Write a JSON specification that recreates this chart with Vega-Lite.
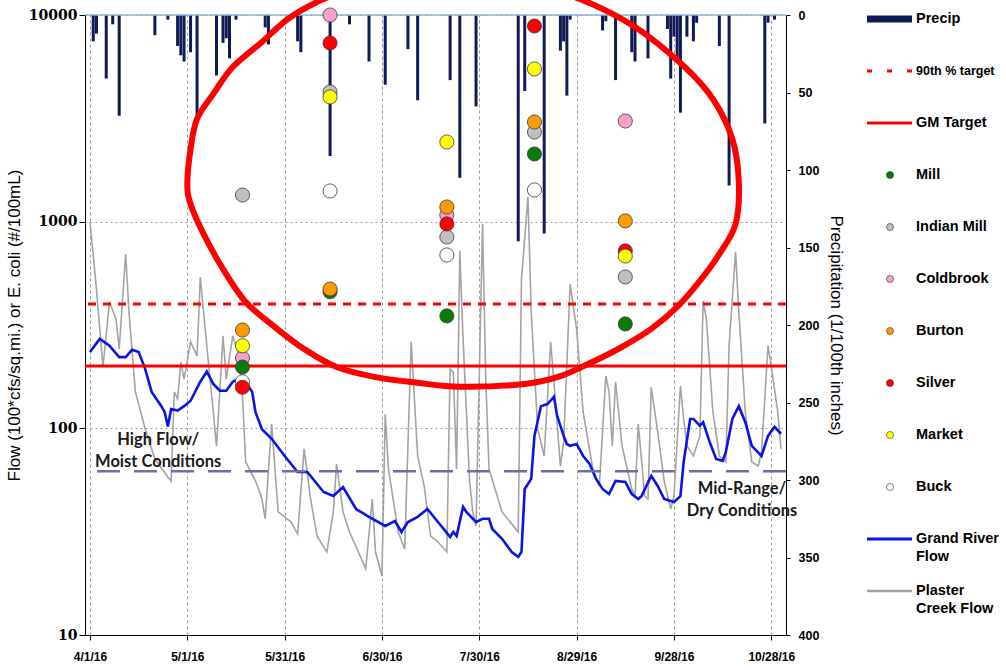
{
  "$schema": "https://vega.github.io/schema/vega-lite/v6.json",
  "background": "white",
  "padding": {"left": 5, "top": -34, "right": 0, "bottom": 4},
  "config": {"view": {"stroke": null}, "font": "Liberation Sans"},
  "bounds": "flush",
  "spacing": 79,
  "resolve": {"scale": {"color": "independent"}},
  "datasets": {
    "precip": [
      {"date":"2016-04-02","p":17},{"date":"2016-04-03","p":12},{"date":"2016-04-06","p":41},{"date":"2016-04-08","p":6},
      {"date":"2016-04-10","p":65},{"date":"2016-04-21","p":13},{"date":"2016-04-25","p":3},{"date":"2016-04-28","p":20},
      {"date":"2016-04-29","p":26},{"date":"2016-04-30","p":30},{"date":"2016-05-02","p":24},{"date":"2016-05-04","p":65},
      {"date":"2016-05-10","p":39},{"date":"2016-05-12","p":18},{"date":"2016-05-13","p":15},{"date":"2016-05-14","p":28},
      {"date":"2016-05-16","p":3},{"date":"2016-05-25","p":8},{"date":"2016-05-26","p":19},{"date":"2016-06-04","p":17},
      {"date":"2016-06-05","p":24},{"date":"2016-06-14","p":91},{"date":"2016-06-20","p":6},{"date":"2016-06-26","p":30},
      {"date":"2016-07-01","p":45},{"date":"2016-07-08","p":22},{"date":"2016-07-11","p":55},{"date":"2016-07-21","p":42},
      {"date":"2016-07-24","p":105},{"date":"2016-07-29","p":59},{"date":"2016-08-11","p":146},{"date":"2016-08-13","p":49},
      {"date":"2016-08-19","p":141},{"date":"2016-08-24","p":23},{"date":"2016-08-25","p":17},{"date":"2016-08-26","p":52},
      {"date":"2016-08-27","p":3},{"date":"2016-09-06","p":10},{"date":"2016-09-07","p":4},{"date":"2016-09-10","p":42},
      {"date":"2016-09-15","p":24},{"date":"2016-09-16","p":30},{"date":"2016-09-20","p":28},{"date":"2016-09-26","p":9},
      {"date":"2016-09-27","p":41},{"date":"2016-09-28","p":14},{"date":"2016-09-29","p":30},{"date":"2016-09-30","p":63},
      {"date":"2016-10-02","p":14},{"date":"2016-10-04","p":17},{"date":"2016-10-05","p":5},{"date":"2016-10-12","p":20},
      {"date":"2016-10-15","p":110},{"date":"2016-10-26","p":70},{"date":"2016-10-27","p":5},{"date":"2016-10-29","p":3}
    ],
    "grand": [
      {"date":"2016-04-01","v":234},{"date":"2016-04-04","v":271},{"date":"2016-04-07","v":251},{"date":"2016-04-10","v":221},
      {"date":"2016-04-12","v":221},{"date":"2016-04-14","v":240},{"date":"2016-04-16","v":234},{"date":"2016-04-18","v":194},
      {"date":"2016-04-20","v":150},{"date":"2016-04-23","v":128},{"date":"2016-04-24","v":120},{"date":"2016-04-25","v":102},
      {"date":"2016-04-26","v":124},{"date":"2016-04-28","v":122},{"date":"2016-04-30","v":128},{"date":"2016-05-02","v":136},
      {"date":"2016-05-05","v":168},{"date":"2016-05-07","v":188},{"date":"2016-05-09","v":164},{"date":"2016-05-11","v":152},
      {"date":"2016-05-13","v":152},{"date":"2016-05-15","v":168},{"date":"2016-05-18","v":177},{"date":"2016-05-21","v":150},
      {"date":"2016-05-22","v":120},{"date":"2016-05-24","v":99},{"date":"2016-05-27","v":89},{"date":"2016-05-31","v":73.5},
      {"date":"2016-06-04","v":61.5},{"date":"2016-06-07","v":61.5},{"date":"2016-06-12","v":49.2},{"date":"2016-06-15","v":47.1},
      {"date":"2016-06-18","v":52},{"date":"2016-06-22","v":40.7},{"date":"2016-06-26","v":37.3},{"date":"2016-07-01","v":33.7},
      {"date":"2016-07-04","v":35.6},{"date":"2016-07-06","v":31.5},{"date":"2016-07-08","v":35.2},{"date":"2016-07-11","v":37.3},
      {"date":"2016-07-14","v":40.7},{"date":"2016-07-17","v":35.6},{"date":"2016-07-19","v":32.6},{"date":"2016-07-21","v":29.8},
      {"date":"2016-07-22","v":31.5},{"date":"2016-07-23","v":30.1},{"date":"2016-07-25","v":41.7},{"date":"2016-07-26","v":39.4},
      {"date":"2016-07-29","v":35.2},{"date":"2016-07-31","v":36.5},{"date":"2016-08-02","v":36.5},{"date":"2016-08-03","v":32.6},
      {"date":"2016-08-06","v":29.2},{"date":"2016-08-09","v":25.2},{"date":"2016-08-11","v":23.9},{"date":"2016-08-12","v":25.2},
      {"date":"2016-08-13","v":50.9},{"date":"2016-08-15","v":56.9},{"date":"2016-08-16","v":91.9},{"date":"2016-08-18","v":128},
      {"date":"2016-08-20","v":131},{"date":"2016-08-22","v":142},{"date":"2016-08-23","v":115},{"date":"2016-08-25","v":91.9},
      {"date":"2016-08-26","v":84},{"date":"2016-08-27","v":82.3},{"date":"2016-08-29","v":84},{"date":"2016-08-31","v":73.5},
      {"date":"2016-09-02","v":67.2},{"date":"2016-09-04","v":56.9},{"date":"2016-09-06","v":50.9},{"date":"2016-09-08","v":48.1},
      {"date":"2016-09-10","v":55.7},{"date":"2016-09-13","v":55},{"date":"2016-09-15","v":48.1},{"date":"2016-09-17","v":45.5},
      {"date":"2016-09-18","v":47},{"date":"2016-09-21","v":58.9},{"date":"2016-09-23","v":52.6},{"date":"2016-09-25","v":45.5},
      {"date":"2016-09-28","v":44},{"date":"2016-09-30","v":47},{"date":"2016-10-01","v":68.8},{"date":"2016-10-03","v":111},
      {"date":"2016-10-04","v":111},{"date":"2016-10-06","v":103},{"date":"2016-10-07","v":107},{"date":"2016-10-09","v":86},
      {"date":"2016-10-11","v":71.1},{"date":"2016-10-13","v":69.6},{"date":"2016-10-14","v":76.9},{"date":"2016-10-16","v":111},
      {"date":"2016-10-18","v":128},{"date":"2016-10-20","v":107},{"date":"2016-10-22","v":82.3},{"date":"2016-10-25","v":73.5},
      {"date":"2016-10-27","v":91.9},{"date":"2016-10-29","v":101.6},{"date":"2016-10-31","v":94}
    ],
    "plaster": [
      {"date":"2016-04-01","v":997},{"date":"2016-04-03","v":472},{"date":"2016-04-05","v":198},{"date":"2016-04-07","v":409},
      {"date":"2016-04-09","v":338},{"date":"2016-04-10","v":242},{"date":"2016-04-12","v":698},{"date":"2016-04-13","v":366},
      {"date":"2016-04-15","v":150},{"date":"2016-04-18","v":99.4},{"date":"2016-04-21","v":71},{"date":"2016-04-25","v":58.2},
      {"date":"2016-04-26","v":55.6},{"date":"2016-04-27","v":150},{"date":"2016-04-28","v":139},{"date":"2016-04-29","v":209},
      {"date":"2016-04-30","v":173},{"date":"2016-05-02","v":262},{"date":"2016-05-04","v":224},{"date":"2016-05-05","v":540},
      {"date":"2016-05-07","v":251},{"date":"2016-05-09","v":120},{"date":"2016-05-10","v":82},{"date":"2016-05-11","v":150},
      {"date":"2016-05-12","v":280},{"date":"2016-05-13","v":173},{"date":"2016-05-15","v":280},{"date":"2016-05-17","v":224},
      {"date":"2016-05-18","v":143},{"date":"2016-05-19","v":68.8},{"date":"2016-05-22","v":55.6},{"date":"2016-05-23","v":50.9},
      {"date":"2016-05-24","v":45.5},{"date":"2016-05-25","v":36.5},{"date":"2016-05-27","v":105},{"date":"2016-05-29","v":39.4},
      {"date":"2016-06-02","v":35.2},{"date":"2016-06-04","v":30.8},{"date":"2016-06-06","v":79.5},{"date":"2016-06-08","v":45.5},
      {"date":"2016-06-10","v":30.1},{"date":"2016-06-13","v":25.2},{"date":"2016-06-15","v":39.4},{"date":"2016-06-16","v":67.2},
      {"date":"2016-06-18","v":39.4},{"date":"2016-06-20","v":31.5},{"date":"2016-06-25","v":20.9},{"date":"2016-06-27","v":45.5},
      {"date":"2016-06-28","v":25.2},{"date":"2016-06-30","v":19.3},{"date":"2016-07-01","v":117},{"date":"2016-07-02","v":63.6},
      {"date":"2016-07-05","v":31.5},{"date":"2016-07-07","v":26.1},{"date":"2016-07-08","v":82.2},{"date":"2016-07-09","v":262},
      {"date":"2016-07-11","v":73.5},{"date":"2016-07-13","v":52.6},{"date":"2016-07-15","v":30.1},{"date":"2016-07-17","v":28.5},
      {"date":"2016-07-20","v":25.2},{"date":"2016-07-21","v":194},{"date":"2016-07-22","v":187},{"date":"2016-07-23","v":63.6},
      {"date":"2016-07-24","v":722},{"date":"2016-07-25","v":271},{"date":"2016-07-27","v":55.6},{"date":"2016-07-28","v":39.4},
      {"date":"2016-07-29","v":33.7},{"date":"2016-07-31","v":975},{"date":"2016-08-01","v":173},{"date":"2016-08-02","v":63.6},
      {"date":"2016-08-06","v":39.4},{"date":"2016-08-11","v":31.5},{"date":"2016-08-12","v":528},{"date":"2016-08-14","v":1317},
      {"date":"2016-08-15","v":366},{"date":"2016-08-17","v":99.4},{"date":"2016-08-19","v":73.5},{"date":"2016-08-21","v":262},
      {"date":"2016-08-22","v":168},{"date":"2016-08-24","v":65.8},{"date":"2016-08-25","v":86},{"date":"2016-08-27","v":499},
      {"date":"2016-08-29","v":303},{"date":"2016-08-31","v":120},{"date":"2016-09-03","v":63.6},{"date":"2016-09-05","v":52.6},
      {"date":"2016-09-07","v":179},{"date":"2016-09-08","v":150},{"date":"2016-09-09","v":82.2},{"date":"2016-09-10","v":168},
      {"date":"2016-09-12","v":82.2},{"date":"2016-09-15","v":50.9},{"date":"2016-09-16","v":47},{"date":"2016-09-17","v":105},
      {"date":"2016-09-19","v":47},{"date":"2016-09-20","v":45.5},{"date":"2016-09-21","v":158},{"date":"2016-09-23","v":96},
      {"date":"2016-09-25","v":55.6},{"date":"2016-09-27","v":40.7},{"date":"2016-09-28","v":47},{"date":"2016-09-30","v":160},
      {"date":"2016-10-01","v":111},{"date":"2016-10-02","v":82.2},{"date":"2016-10-04","v":73.5},{"date":"2016-10-06","v":91.9},
      {"date":"2016-10-07","v":413},{"date":"2016-10-08","v":338},{"date":"2016-10-10","v":120},{"date":"2016-10-12","v":73.5},
      {"date":"2016-10-14","v":68.8},{"date":"2016-10-15","v":251},{"date":"2016-10-17","v":713},{"date":"2016-10-18","v":366},
      {"date":"2016-10-20","v":120},{"date":"2016-10-22","v":68.8},{"date":"2016-10-24","v":65.8},{"date":"2016-10-25","v":76.9},
      {"date":"2016-10-27","v":251},{"date":"2016-10-28","v":200},{"date":"2016-10-30","v":120},{"date":"2016-10-31","v":79.5}
    ],
    "ecoli": [
      {"date":"2016-05-18","site":"Indian Mill","v":1346},{"date":"2016-05-18","site":"Buck","v":168},
      {"date":"2016-05-18","site":"Coldbrook","v":219},{"date":"2016-05-18","site":"Mill","v":198},
      {"date":"2016-05-18","site":"Burton","v":299},{"date":"2016-05-18","site":"Silver","v":158},
      {"date":"2016-05-18","site":"Market","v":251},
      {"date":"2016-06-14","site":"Mill","v":458},{"date":"2016-06-14","site":"Indian Mill","v":4240},
      {"date":"2016-06-14","site":"Coldbrook","v":10000},{"date":"2016-06-14","site":"Burton","v":472},
      {"date":"2016-06-14","site":"Silver","v":7320},{"date":"2016-06-14","site":"Market","v":4012},
      {"date":"2016-06-14","site":"Buck","v":1408},
      {"date":"2016-07-20","site":"Mill","v":350},{"date":"2016-07-20","site":"Indian Mill","v":843},
      {"date":"2016-07-20","site":"Coldbrook","v":1077},{"date":"2016-07-20","site":"Burton","v":1178},
      {"date":"2016-07-20","site":"Silver","v":975},{"date":"2016-07-20","site":"Market","v":2430},
      {"date":"2016-07-20","site":"Buck","v":690},
      {"date":"2016-08-16","site":"Mill","v":2126},{"date":"2016-08-16","site":"Indian Mill","v":2716},
      {"date":"2016-08-16","site":"Burton","v":3036},{"date":"2016-08-16","site":"Silver","v":8845},
      {"date":"2016-08-16","site":"Market","v":5480},{"date":"2016-08-16","site":"Buck","v":1424},
      {"date":"2016-09-13","site":"Mill","v":320},{"date":"2016-09-13","site":"Indian Mill","v":540},
      {"date":"2016-09-13","site":"Coldbrook","v":3070},{"date":"2016-09-13","site":"Burton","v":1008},
      {"date":"2016-09-13","site":"Silver","v":722},{"date":"2016-09-13","site":"Market","v":682}
    ],
    "ellipse": [
      {"k":1,"date":"2016-05-01","v":1522},{"k":2,"date":"2016-05-02","v":2247},{"k":3,"date":"2016-05-04","v":3140},
      {"k":4,"date":"2016-05-09","v":4148},{"k":5,"date":"2016-05-15","v":5603},{"k":6,"date":"2016-05-24","v":7403},
      {"k":7,"date":"2016-06-01","v":9564},{"k":8,"date":"2016-06-10","v":11557},{"k":9,"date":"2016-06-19","v":13064},
      {"k":10,"date":"2016-07-05","v":14444},{"k":11,"date":"2016-07-26","v":14937},{"k":12,"date":"2016-08-16","v":13658},
      {"k":13,"date":"2016-08-30","v":11950},{"k":14,"date":"2016-09-16","v":8750},{"k":15,"date":"2016-10-01","v":5666},
      {"k":16,"date":"2016-10-10","v":3923},{"k":17,"date":"2016-10-16","v":2512},{"k":18,"date":"2016-10-18","v":1556},
      {"k":19,"date":"2016-10-17","v":975},{"k":20,"date":"2016-10-12","v":698},{"k":21,"date":"2016-10-06","v":517},
      {"k":22,"date":"2016-09-29","v":387},{"k":23,"date":"2016-09-21","v":303},{"k":24,"date":"2016-09-12","v":248},
      {"k":25,"date":"2016-09-03","v":210},{"k":26,"date":"2016-08-24","v":179},{"k":27,"date":"2016-08-13","v":164},
      {"k":28,"date":"2016-07-24","v":159},{"k":29,"date":"2016-07-11","v":166},{"k":30,"date":"2016-06-28","v":177},
      {"k":31,"date":"2016-06-16","v":198},{"k":32,"date":"2016-06-06","v":242},{"k":33,"date":"2016-05-28","v":309},
      {"k":34,"date":"2016-05-19","v":409},{"k":35,"date":"2016-05-12","v":590},{"k":36,"date":"2016-05-06","v":872},
      {"k":37,"date":"2016-05-02","v":1218}
    ],
    "notes": [
      {"date":"2016-04-22","v":88,"label":"High Flow/\nMoist Conditions"},
      {"date":"2016-10-19","v":51,"label":"Mid-Range/\nDry Conditions"}
    ],
    "legend": [
      {"item":"Precip","label":"Precip"},
      {"item":"90th % target","label":"90th % target"},
      {"item":"GM Target","label":"GM Target"},
      {"item":"Mill","label":"Mill"},
      {"item":"Indian Mill","label":"Indian Mill"},
      {"item":"Coldbrook","label":"Coldbrook"},
      {"item":"Burton","label":"Burton"},
      {"item":"Silver","label":"Silver"},
      {"item":"Market","label":"Market"},
      {"item":"Buck","label":"Buck"},
      {"item":"Grand River Flow","label":"Grand River\nFlow"},
      {"item":"Plaster Creek Flow","label":"Plaster\nCreek Flow"}
    ]
  },
  "hconcat": [
    {
      "width": 701,
      "height": 620,
      "resolve": {"scale": {"y": "independent"}, "axis": {"y": "independent"}},
      "layer": [
        {
          "data": {"name": "precip"},
          "mark": {"type": "bar", "color": "#101a55", "width": 3},
          "encoding": {
            "x": {
              "field": "date", "type": "temporal",
              "scale": {"type": "utc", "domain": [{"year":2016,"month":4,"date":1,"utc":true},{"year":2016,"month":10,"date":31,"utc":true}]},
              "axis": {
                "title": null,
                "values": [
                  {"year":2016,"month":4,"date":1,"utc":true},{"year":2016,"month":5,"date":1,"utc":true},
                  {"year":2016,"month":5,"date":31,"utc":true},{"year":2016,"month":6,"date":30,"utc":true},
                  {"year":2016,"month":7,"date":30,"utc":true},{"year":2016,"month":8,"date":29,"utc":true},
                  {"year":2016,"month":9,"date":28,"utc":true},{"year":2016,"month":10,"date":28,"utc":true}
                ],
                "format": "%-m/%-d/%y",
                "labelFont": "Liberation Sans", "labelFontWeight": "bold", "labelFontSize": 12, "labelColor": "#000",
                "labelFlush": false, "labelOverlap": false, "labelPadding": 11,
                "tickSize": 5, "tickColor": "#000", "domainColor": "#000",
                "grid": true, "gridDash": [3, 3], "gridColor": "#9a9a9a"
              }
            },
            "y": {
              "field": "p", "type": "quantitative",
              "scale": {"domain": [0, 400], "reverse": true, "nice": false},
              "axis": {
                "orient": "right", "title": "Precipitation (1/100th inches)",
                "values": [0, 50, 100, 150, 200, 250, 300, 350, 400],
                "labelFont": "Liberation Sans", "labelFontWeight": "bold", "labelFontSize": 12.5, "labelColor": "#000",
                "tickSize": 4, "tickColor": "#000", "labelPadding": 8, "domainColor": "#000", "grid": false,
                "titleFont": "Liberation Sans", "titleFontSize": 17, "titleFontWeight": "normal", "titleColor": "#000", "titlePadding": 8
              }
            }
          }
        },
        {
          "layer": [
            {
              "data": {"name": "plaster"},
              "mark": {"type": "line", "color": "#a3a3a3", "strokeWidth": 1.6},
              "encoding": {
                "x": {"field": "date", "type": "temporal"},
                "y": {
                  "field": "v", "type": "quantitative",
                  "scale": {"type": "log", "domain": [10, 10000], "nice": false},
                  "axis": {
                    "orient": "left", "title": "Flow (100*cfs/sq.mi.) or E. coli (#/100mL)",
                    "values": [10, 100, 1000, 10000], "format": "d",
                    "labelFont": "DejaVu Serif", "labelFontWeight": "bold", "labelFontSize": 14, "labelColor": "#000",
                    "tickSize": 6, "tickColor": "#000", "labelPadding": 2, "domainColor": "#000",
                    "grid": true, "gridDash": [2, 3], "gridColor": "#9a9a9a",
                    "titleFont": "Liberation Sans", "titleFontSize": 17, "titleFontWeight": "normal", "titleColor": "#000", "titlePadding": 5
                  }
                }
              }
            },
            {
              "data": {"name": "grand"},
              "mark": {"type": "line", "color": "#0a14e6", "strokeWidth": 2.6},
              "encoding": {
                "x": {"field": "date", "type": "temporal"},
                "y": {"field": "v", "type": "quantitative"}
              }
            },
            {
              "data": {"values": [{}]},
              "mark": {"type": "rule", "color": "#6e6ea6", "strokeWidth": 2.6, "strokeDash": [23, 14]},
              "encoding": {"y": {"datum": 62, "type": "quantitative"}}
            },
            {
              "data": {"values": [{}]},
              "mark": {"type": "rule", "color": "#ff0000", "strokeWidth": 3},
              "encoding": {"y": {"datum": 200, "type": "quantitative"}}
            },
            {
              "data": {"values": [{}]},
              "mark": {"type": "rule", "color": "#ff0000", "strokeWidth": 3, "strokeDash": [8, 7]},
              "encoding": {"y": {"datum": 400, "type": "quantitative"}}
            },
            {
              "data": {"values": [{}]},
              "mark": {"type": "rule", "color": "#8db3e2", "strokeWidth": 1.5},
              "encoding": {"y": {"datum": 10000, "type": "quantitative"}}
            },
            {
              "data": {"name": "ellipse"},
              "mark": {"type": "line", "color": "#ff0000", "strokeWidth": 6, "interpolate": "cardinal-closed"},
              "encoding": {
                "x": {"field": "date", "type": "temporal"},
                "y": {"field": "v", "type": "quantitative"},
                "order": {"field": "k", "type": "quantitative"}
              }
            },
            {
              "data": {"name": "ecoli"},
              "mark": {"type": "point", "shape": "circle", "filled": true, "size": 200, "opacity": 1, "stroke": "#3a3a3a", "strokeWidth": 0.8},
              "encoding": {
                "x": {"field": "date", "type": "temporal"},
                "y": {"field": "v", "type": "quantitative"},
                "color": {
                  "field": "site", "type": "nominal", "legend": null,
                  "scale": {"domain": ["Mill","Indian Mill","Coldbrook","Burton","Silver","Market","Buck"],
                            "range": ["#0a7a0a","#c0c0c0","#f7a1c9","#ff9a00","#ff0000","#ffff00","#ffffff"]}
                }
              }
            },
            {
              "data": {"name": "notes"},
              "mark": {"type": "text", "font": "Lato", "fontWeight": "bold", "fontSize": 16.5, "lineBreak": "\n", "lineHeight": 22, "align": "center", "baseline": "middle", "color": "#1a1a1a"},
              "encoding": {
                "x": {"field": "date", "type": "temporal"},
                "y": {"field": "v", "type": "quantitative"},
                "text": {"field": "label"}
              }
            }
          ]
        }
      ]
    },
    {
      "width": 140,
      "height": 580,
      "data": {"name": "legend"},
      "encoding": {
        "y": {
          "field": "item", "type": "nominal", "axis": null,
          "scale": {"type": "point", "padding": 0, "domain": ["Precip","90th % target","GM Target","Mill","Indian Mill","Coldbrook","Burton","Silver","Market","Buck","Grand River Flow","Plaster Creek Flow"], "range": [4, 576]}
        }
      },
      "layer": [
        {
          "transform": [{"filter": "datum.item === 'Precip'"}],
          "mark": {"type": "rule", "color": "#101a55", "strokeWidth": 7},
          "encoding": {"x": {"datum": 2, "type": "quantitative", "scale": {"domain": [0, 140], "nice": false, "zero": false}, "axis": null}, "x2": {"datum": 47}}
        },
        {
          "transform": [{"filter": "datum.item === '90th % target'"}],
          "mark": {"type": "rule", "color": "#ff0000", "strokeWidth": 3, "strokeDash": [5, 15]},
          "encoding": {"x": {"datum": 2, "type": "quantitative", "axis": null}, "x2": {"datum": 47}}
        },
        {
          "transform": [{"filter": "datum.item === 'GM Target'"}],
          "mark": {"type": "rule", "color": "#ff0000", "strokeWidth": 3},
          "encoding": {"x": {"datum": 2, "type": "quantitative", "axis": null}, "x2": {"datum": 47}}
        },
        {
          "transform": [{"filter": "datum.item === 'Grand River Flow'"}],
          "mark": {"type": "rule", "color": "#0a14e6", "strokeWidth": 3},
          "encoding": {"x": {"datum": 2, "type": "quantitative", "axis": null}, "x2": {"datum": 47}}
        },
        {
          "transform": [{"filter": "datum.item === 'Plaster Creek Flow'"}],
          "mark": {"type": "rule", "color": "#a3a3a3", "strokeWidth": 2.5},
          "encoding": {"x": {"datum": 2, "type": "quantitative", "axis": null}, "x2": {"datum": 47}}
        },
        {
          "transform": [{"filter": {"field": "item", "oneOf": ["Mill","Indian Mill","Coldbrook","Burton","Silver","Market","Buck"]}}],
          "mark": {"type": "point", "shape": "circle", "filled": true, "size": 50, "opacity": 1, "stroke": "#333333", "strokeWidth": 0.6},
          "encoding": {
            "x": {"datum": 25, "type": "quantitative", "axis": null},
            "color": {
              "field": "item", "type": "nominal", "legend": null,
              "scale": {"domain": ["Mill","Indian Mill","Coldbrook","Burton","Silver","Market","Buck"],
                        "range": ["#0a7a0a","#c0c0c0","#f7a1c9","#ff9a00","#ff0000","#ffff00","#ffffff"]}
            }
          }
        },
        {
          "mark": {"type": "text", "align": "left", "baseline": "middle", "lineBreak": "\n", "lineHeight": 18, "font": "Liberation Sans", "fontWeight": "bold", "color": "#000"},
          "encoding": {
            "x": {"datum": 51, "type": "quantitative", "axis": null},
            "text": {"field": "label"},
            "size": {"condition": {"test": "datum.item === '90th % target'", "value": 12.5}, "value": 14.5}
          }
        }
      ]
    }
  ]
}
